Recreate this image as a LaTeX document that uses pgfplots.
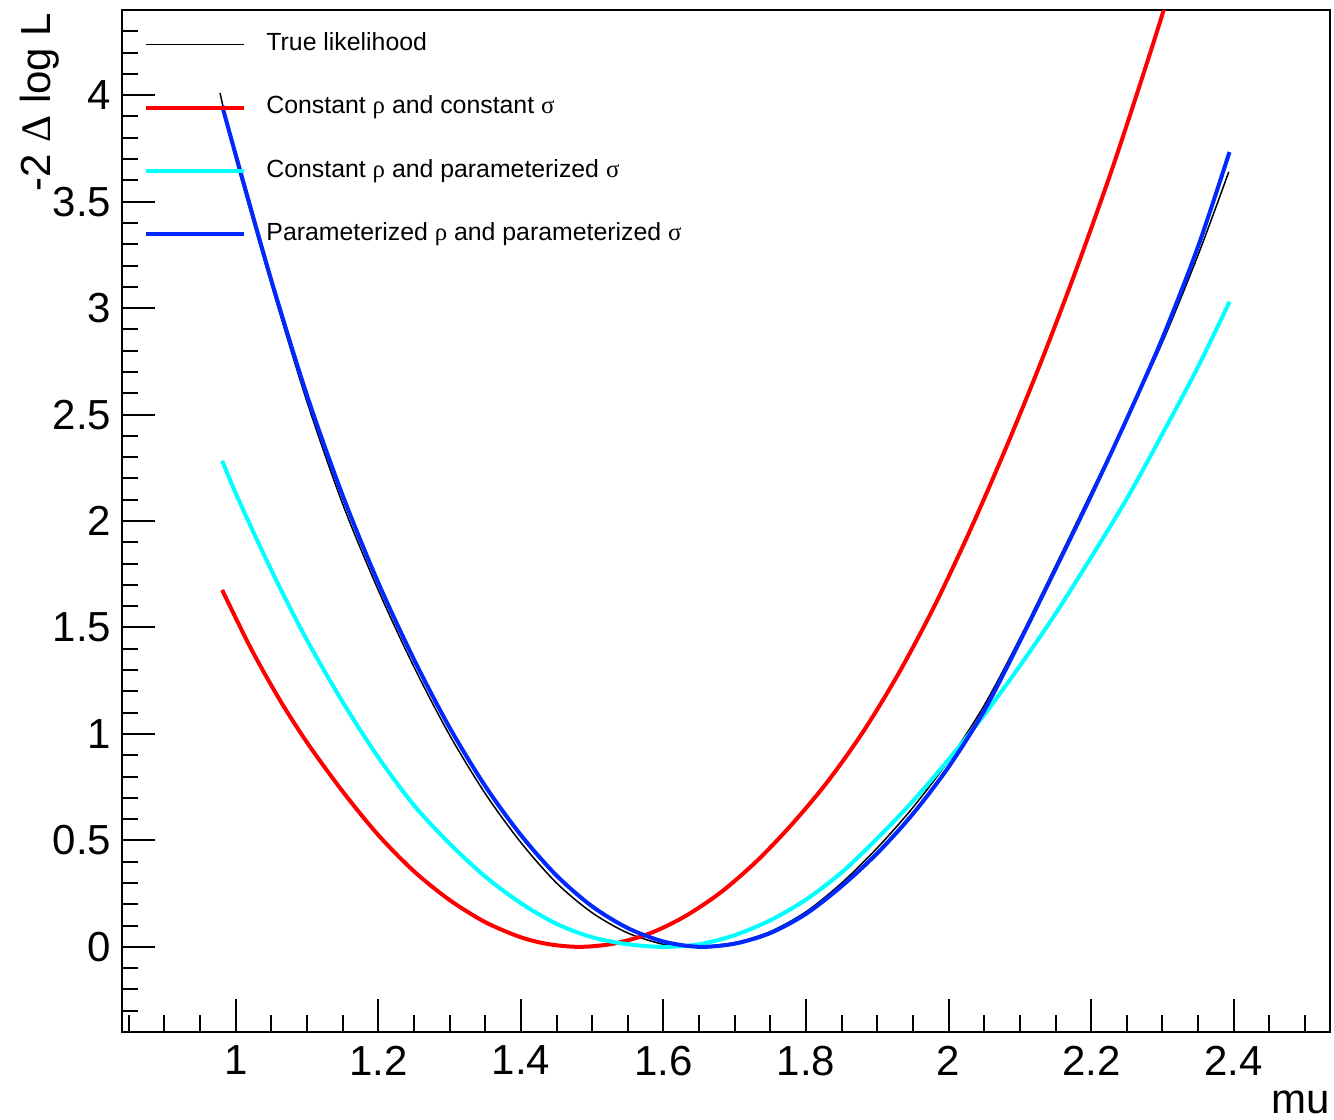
\documentclass[border=0pt]{standalone}
\usepackage{pgfplots}
\pgfplotsset{compat=1.18}
\usepackage{fontspec}
\setmainfont{Liberation Sans}
\newfontfamily\greek{Liberation Serif}
\definecolor{rootred}{RGB}{255,0,0}
\definecolor{rootcyan}{RGB}{0,255,255}
\definecolor{rootblue}{RGB}{0,40,255}

\pgfplotstableread{
x y
0.978 4.01
1.00 3.70
1.05 3.11
1.10 2.56
1.15 2.08
1.20 1.675
1.25 1.315
1.30 0.995
1.35 0.72
1.40 0.49
1.45 0.30
1.50 0.16
1.55 0.065
1.60 0.012
1.64 0.0
1.70 0.02
1.75 0.072
1.80 0.165
1.85 0.30
1.90 0.465
1.95 0.655
2.00 0.875
2.05 1.135
2.10 1.45
2.15 1.79
2.20 2.135
2.25 2.48
2.30 2.84
2.35 3.25
2.393 3.64
}\truelik

\pgfplotstableread{
x y
0.981 1.676
1.02 1.41
1.06 1.17
1.10 0.96
1.15 0.73
1.20 0.525
1.25 0.355
1.30 0.22
1.35 0.116
1.40 0.045
1.44 0.012
1.483 0.0
1.53 0.015
1.58 0.062
1.63 0.143
1.68 0.255
1.73 0.40
1.78 0.575
1.83 0.775
1.88 1.01
1.93 1.285
1.98 1.60
2.03 1.955
2.08 2.34
2.13 2.75
2.18 3.19
2.23 3.66
2.28 4.17
2.31 4.49
2.35 4.93
}\constconst

\pgfplotstableread{
x y
0.981 2.283
1.00 2.13
1.03 1.91
1.06 1.70
1.10 1.44
1.15 1.15
1.20 0.89
1.25 0.665
1.30 0.485
1.35 0.33
1.40 0.205
1.45 0.108
1.50 0.045
1.55 0.012
1.60 0.0
1.65 0.012
1.70 0.055
1.75 0.125
1.80 0.222
1.85 0.35
1.90 0.51
1.95 0.685
2.00 0.88
2.05 1.09
2.10 1.32
2.15 1.565
2.20 1.83
2.25 2.105
2.30 2.41
2.35 2.725
2.394 3.03
}\constparam

\pgfplotstableread{
x y
0.981 3.95
1.00 3.72
1.05 3.13
1.10 2.59
1.15 2.12
1.20 1.71
1.25 1.35
1.30 1.03
1.35 0.755
1.40 0.525
1.45 0.335
1.50 0.19
1.55 0.088
1.60 0.025
1.65 0.0
1.70 0.015
1.75 0.065
1.80 0.155
1.85 0.285
1.90 0.44
1.95 0.625
2.00 0.845
2.05 1.11
2.10 1.435
2.15 1.775
2.20 2.12
2.25 2.48
2.30 2.86
2.35 3.29
2.394 3.733
}\paramparam

\begin{document}
\begin{tikzpicture}
\useasboundingbox (-36.5pt,-26.1pt) rectangle (363.7pt,309.6pt);
\begin{axis}[
  at={(0pt,0pt)}, anchor=south west,
  scale only axis, width=362.5pt, height=306.6pt,
  xmin=0.84, xmax=2.535, ymin=-0.4, ymax=4.4,
  xtick={1,1.2,1.4,1.6,1.8,2,2.2,2.4},
  ytick={0,0.5,1,1.5,2,2.5,3,3.5,4},
  minor xtick={0.85,0.9,...,2.5},
  minor ytick={-0.3,-0.2,...,4.35},
  tick pos=left, tick align=inside,
  major tick length=10pt, minor tick length=5pt,
  every tick/.style={black, line width=0.6pt},
  axis line style={line width=0.6pt},
  /pgf/number format/assume math mode=true,
  ticklabel style={font=\fontsize{12.6}{14}\selectfont},
  xticklabel style={inner sep=0pt, anchor=north, yshift=-3.9pt},
  yticklabel style={inner sep=0pt, anchor=east, xshift=-2.9pt},
  xlabel={mu},
  xlabel style={at={(rel axis cs:1,0)}, anchor=north east, inner sep=0pt, yshift=-17.4pt, font=\fontsize{12.6}{14}\selectfont},
  ylabel={-2 {\greek Δ} log L},
  ylabel style={at={(rel axis cs:-0.0676,0.998)}, anchor=east, inner sep=0pt, font=\fontsize{12.6}{14}\selectfont},
  legend cell align=left,
  legend image code/.code={\draw[#1] (0pt,0pt) -- (29.4pt,0pt);},
  legend style={draw=none, fill=none, at={(rel axis cs:0.0183,0.9785)}, anchor=north west,
    inner sep=0pt, font=\fontsize{7.45}{8.9}\selectfont, row sep=12.0pt,
    nodes={inner sep=0pt, text height=5.4pt, text depth=1.6pt},
    /tikz/every odd column/.append style={column sep=6.0pt}},
]
\addplot[black, line width=0.45pt, smooth] table {\truelik};
\addlegendentry{True likelihood}
\addplot[rootred, line width=1.2pt, smooth] table {\constconst};
\addlegendentry{Constant {\greek ρ} and constant {\greek σ}}
\addplot[rootcyan, line width=1.2pt, smooth] table {\constparam};
\addlegendentry{Constant {\greek ρ} and parameterized {\greek σ}}
\addplot[rootblue, line width=1.2pt, smooth] table {\paramparam};
\addlegendentry{Parameterized {\greek ρ} and parameterized {\greek σ}}
\end{axis}
\end{tikzpicture}
\end{document}
